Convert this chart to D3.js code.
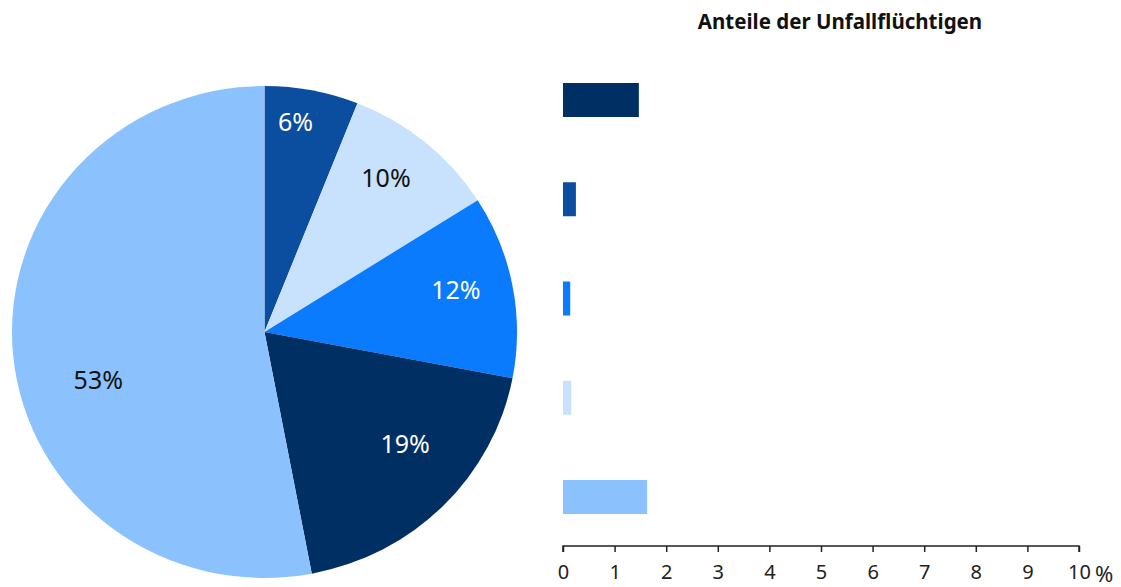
<!DOCTYPE html>
<html lang="de">
<meta charset="utf-8">
<head>
	<title>Unfallflucht</title>
	<style>
	body { margin: 0; background: #fff; }
	text { font-family: "Noto Sans", "Open Sans", sans-serif; }
	.axis path, .axis line { stroke: #222; stroke-width: 1.5px; }
	.axis text { font-size: 20px; fill: #222; }
	</style>
</head>
<body>
	<svg width="1121" height="587"></svg>
	<script src="https://cdn.jsdelivr.net/npm/d3@7"></script>
	<script>

// pie shares (percent), clockwise from 12 o'clock
var pieLabels = ["6%", "10%", "12%", "19%", "53%"],
    pieValues = [6, 10, 12, 19, 53],
    pieColors = ["#0b4d9f", "#c8e1fd", "#0a7bfd", "#002f63", "#8bc2fe"],
    pieTextColors = ["#fff", "#111", "#fff", "#fff", "#111"];

// bars: share of hit-and-run drivers (percent)
var barValues = [1.47, 0.25, 0.14, 0.16, 1.63],
    barColors = ["#002f63", "#0b4d9f", "#0a7bfd", "#c8e1fd", "#8bc2fe"],
    xTicks = [0, 1, 2, 3, 4, 5, 6, 7, 8, 9, 10];

var svg = d3.select("svg");

// ---- pie ----
var cx = 264.5, cy = 332, r = 252.5, squash = 246 / 252.5;
// label placement tweaks: radius and angle shift (deg) from the slice middle
var labelR = [212, 196, 196, 180, 173],
    labelShift = [-2.4, -1.3, -1.6, -6.4, -10.7];

var pie = d3.pie().sort(null).value(function(d) { return d; });
var arcs = pie(pieValues);
var arc = d3.arc().innerRadius(0).outerRadius(r);

var pg = svg.append("g")
    .attr("transform", "translate(" + cx + "," + cy + ") scale(1," + squash + ")");

pg.selectAll("path")
    .data(arcs)
  .enter().append("path")
    .attr("d", arc)
    .attr("fill", function(d, i) { return pieColors[i]; });

function labelPos(d, i) {
  var a = (d.startAngle + d.endAngle) / 2 + labelShift[i] * Math.PI / 180;
  return [cx + labelR[i] * Math.sin(a), cy - labelR[i] * Math.cos(a)];
}

svg.append("g").selectAll("text")
    .data(arcs)
  .enter().append("text")
    .attr("x", function(d, i) { return labelPos(d, i)[0]; })
    .attr("y", function(d, i) { return labelPos(d, i)[1]; })
    .attr("dy", "0.35em")
    .attr("text-anchor", "middle")
    .style("font-size", "25px")
    .style("fill", function(d, i) { return pieTextColors[i]; })
    .text(function(d, i) { return pieLabels[i]; });

// ---- bars ----
var xScale = d3.scaleLinear().domain([0, 10]).range([563, 1079]);
var yScale = d3.scalePoint().domain(d3.range(barValues.length)).range([100, 497]);
var barH = 34;

svg.append("text")
    .attr("x", 840)
    .attr("y", 29)
    .attr("text-anchor", "middle")
    .style("font-size", "20.5px")
    .style("font-weight", "bold")
    .style("fill", "#111")
    .text("Anteile der Unfallflüchtigen");

svg.append("g").selectAll("rect")
    .data(barValues)
  .enter().append("rect")
    .attr("x", xScale(0))
    .attr("y", function(d, i) { return yScale(i) - barH / 2; })
    .attr("width", function(d) { return xScale(d) - xScale(0); })
    .attr("height", barH)
    .attr("fill", function(d, i) { return barColors[i]; });

var xAxis = d3.axisBottom(xScale)
    .tickValues(xTicks)
    .tickSizeOuter(6)
    .tickSizeInner(6)
    .tickPadding(13)
    .tickFormat(d3.format("d"));

var ax = svg.append("g")
    .attr("class", "axis")
    .attr("transform", "translate(0,546)")
    .call(xAxis);

ax.select(".domain").attr("d", "M" + xScale(0) + ",6V0H" + xScale(10) + "V6");

svg.append("text")
    .attr("x", xScale(10) + 16)
    .attr("y", 546 + 36)
    .style("font-size", "22px")
    .style("fill", "#222")
    .text("%");

	</script>
</body>
</html>
